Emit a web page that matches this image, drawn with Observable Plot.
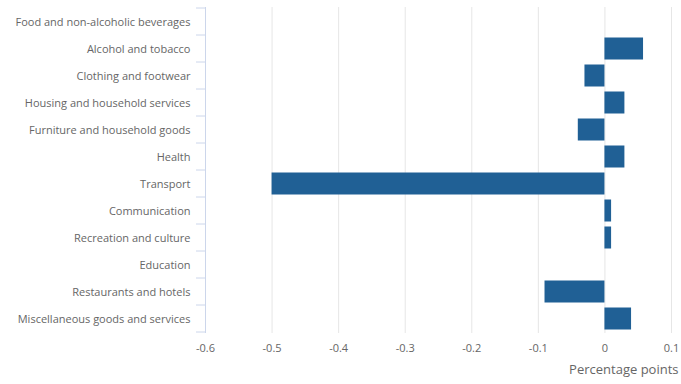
<!DOCTYPE html>
<html>
<head>
<meta charset="utf-8">
<script src="https://cdn.jsdelivr.net/npm/d3@7"></script>
<script src="https://cdn.jsdelivr.net/npm/@observablehq/plot@0.6"></script>
<style>
  html, body { margin: 0; padding: 0; background: #fff; }
  svg { font-family: "Open Sans", sans-serif; }
</style>
</head>
<body>
<div id="chart"></div>
<script>
const categories = [
  "Food and non-alcoholic beverages",
  "Alcohol and tobacco",
  "Clothing and footwear",
  "Housing and household services",
  "Furniture and household goods",
  "Health",
  "Transport",
  "Communication",
  "Recreation and culture",
  "Education",
  "Restaurants and hotels",
  "Miscellaneous goods and services"
];
const values = [0, 0.058, -0.03, 0.03, -0.04, 0.03, -0.5, 0.01, 0.01, 0, -0.09, 0.04];
const xTicks = [-0.6, -0.5, -0.4, -0.3, -0.2, -0.1, 0, 0.1];
const xLabel = "Percentage points";

const data = categories.map((c, i) => ({category: c, value: values[i]}));

const chart = Plot.plot({
  width: 681,
  height: 384,
  marginLeft: 205,
  marginRight: 10,
  marginTop: 7,
  marginBottom: 51,
  style: {fontFamily: "Open Sans, sans-serif", fontSize: "11px", color: "#666", background: "#fff"},
  x: {domain: [-0.6, 0.1]},
  y: {domain: categories, padding: 0},
  marks: [
    Plot.gridX(xTicks, {stroke: "#e6e6e6", strokeOpacity: 1}),
    Plot.barX(data, {x: "value", y: "category", fill: "#206095", insetTop: 2.5, insetBottom: 2.5}),
    Plot.ruleX([-0.6], {stroke: "#ccd6eb", strokeOpacity: 1}),
    Plot.axisX(xTicks, {
      tickSize: 0, tickPadding: 11, fontSize: 11, fill: "#666",
      tickFormat: d => String(+d.toFixed(1)),
      label: null
    }),
    Plot.axisX([], {
      tickSize: 0, fontSize: 13, fill: "#666",
      label: xLabel, labelAnchor: "right", labelArrow: "none", labelOffset: 40
    }),
    Plot.axisY({tickSize: 0, tickPadding: 15, fontSize: 11, fill: "#666", label: null})
  ]
});

document.getElementById("chart").appendChild(chart);

// boundary ticks on the category axis, from the library's y and x scales
const ys = chart.scale("y");
const xs = chart.scale("x");
const x0 = xs.apply(-0.6);
const bounds = categories.map(c => ys.apply(c));
bounds.push(ys.apply(categories[categories.length - 1]) + ys.bandwidth);
d3.select(chart).append("g")
  .attr("stroke", "#ccd6eb")
  .selectAll("line")
  .data(bounds)
  .join("line")
  .attr("x1", x0 - 9).attr("x2", x0)
  .attr("y1", d => d).attr("y2", d => d);
</script>
</body>
</html>
